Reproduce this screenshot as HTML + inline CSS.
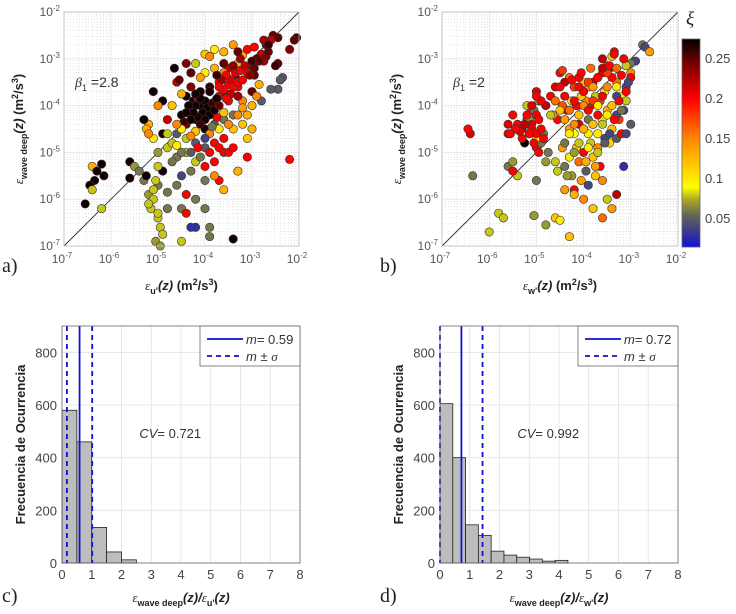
<!DOCTYPE html>
<html><head><meta charset="utf-8"><style>
body{margin:0;background:#fff;width:736px;height:614px;overflow:hidden}
svg{display:block;font-family:"Liberation Sans",sans-serif}
</style></head><body>
<svg id="fig" width="736" height="614" viewBox="0 0 736 614"></svg>
<script>
// ---------- data ----------
const aLogX=[-2.55,-2.45,-2.6,-2.7,-2.05,-2.1,-2.2,-2.45,-2.5,-2.8,-2.9,-3.0,-3.1,-2.35,-2.4,-2.45,-2.6,-2.8,-3.2,-3.3,-3.1,-3.35,-3.5,-3.6,-3.8,-4.0,-3.7,-3.9,-4.1,-4.3,-4.25,-4.4,-4.6,-4.3,-4.1,-3.9,-3.7,-3.5,-3.3,-3.2,-3.1,-3.0,-3.4,-3.6,-3.8,-4.0,-4.2,-4.4,-4.5,-4.6,-4.4,-4.2,-4.0,-3.8,-3.6,-3.4,-3.2,-3.1,-3.0,-3.1,-3.6,-3.8,-4.0,-4.2,-4.4,-4.6,-4.8,-4.9,-5.0,-5.1,-5.2,-5.25,-5.3,-4.8,-4.7,-4.9,-5.1,-4.65,-4.3,-4.5,-5.6,-5.6,-5.5,-5.4,-5.3,-5.2,-5.25,-4.9,-5.0,-4.8,-4.8,-4.6,-4.5,-4.4,-4.2,-4.0,-3.9,-4.2,-4.3,-4.4,-4.5,-3.9,-3.4,-3.7,-3.6,-3.3,-2.2,-5.0,-5.05,-5.1,-5.1,-5.15,-5.0,-4.95,-4.9,-5.05,-4.95,-5.2,-5.0,-6.4,-6.35,-6.3,-6.2,-6.15,-6.45,-6.4,-6.55,-6.2,-4.0,-3.8,-3.4,-4.2,-5.0,-5.2,-4.7,-4.55,-4.1,-3.95,-4.05,-3.85,-4.15,-3.75,-3.55,-3.45,-3.25,-2.95,-2.75];
const aLogY=[-2.5,-2.55,-2.6,-2.7,-2.55,-2.6,-2.8,-3.1,-3.15,-2.9,-3.0,-3.1,-3.2,-3.4,-3.45,-3.65,-3.65,-3.9,-2.92,-3.1,-3.3,-3.4,-3.2,-3.3,-3.2,-3.3,-3.5,-3.6,-3.7,-3.6,-3.9,-3.8,-3.5,-4.1,-4.0,-4.1,-3.8,-3.9,-3.6,-3.9,-4.2,-3.7,-4.2,-4.3,-4.4,-4.5,-4.3,-4.4,-4.2,-4.6,-4.7,-4.8,-4.9,-4.8,-4.7,-4.5,-4.4,-4.7,-4.5,-5.1,-5.0,-5.2,-5.3,-5.2,-5.0,-5.1,-4.9,-4.6,-5.0,-4.7,-4.4,-4.5,-4.3,-4.3,-4.0,-3.9,-3.7,-3.2,-3.3,-3.75,-5.2,-5.55,-5.3,-5.4,-5.6,-5.9,-5.5,-5.4,-5.7,-5.85,-6.2,-5.7,-6.2,-5.9,-6.0,-6.2,-6.6,-6.6,-6.6,-6.3,-6.9,-6.8,-6.85,-5.6,-5.8,-5.4,-5.15,-5.3,-5.6,-5.8,-6.0,-6.2,-6.4,-6.6,-6.75,-6.9,-7.0,-6.1,-6.3,-5.3,-5.6,-5.4,-5.25,-5.5,-5.7,-5.8,-6.1,-6.2,-2.9,-2.8,-2.7,-3.1,-4.0,-4.6,-4.8,-3.45,-3.4,-3.95,-4.2,-4.05,-3.85,-4.25,-3.75,-3.45,-3.25,-3.35,-3.05];
const aXi=[.25,.25,.22,.24,.26,.25,.24,.25,.26,.22,.25,.2,.24,.05,.05,.05,.05,.05,.13,.12,.2,.25,.22,.15,.13,.1,.2,.26,.27,.24,.27,.27,.22,.26,.27,.26,.21,.2,.2,.15,.13,.25,.06,.06,.05,.27,.27,.25,.27,.05,.08,.05,.05,.2,.2,.12,.12,.12,.13,.2,.2,.2,.2,.08,.08,.06,.08,.27,.07,.1,.13,.13,.27,.22,.12,.27,.27,.27,.13,.13,.27,.27,.07,.06,.06,.07,.27,.27,.06,.06,.06,.06,.06,.2,.06,.06,.06,.03,.03,.2,.08,.06,.27,.2,.13,.13,.2,.08,.08,.08,.08,.08,.08,.08,.08,.07,.07,.08,.08,.13,.27,.27,.27,.27,.27,.08,.27,.08,.12,.1,.14,.08,.15,.15,.08,.25,.14,.27,.26,.27,.22,.2,.24,.21,.2,.25,.23];
const aCoreX=[-4.0,-3.95,-4.05,-3.9,-4.1,-4.15,-3.85,-4.2,-4.25,-3.8,-4.0,-4.1,-4.3,-4.35,-3.75,-3.7,-4.4,-4.45,-4.2,-3.9,-3.5,-3.45,-3.55,-3.4,-3.6,-3.3,-3.35,-3.25,-3.15,-3.2,-3.65,-3.7,-3.45,-3.55,-3.3,-3.05,-2.95,-3.0,-2.85,-2.7,-2.65,-3.25,-3.4,-3.6,-3.75,-4.2,-4.3,-4.5,-4.6,-3.9,-3.7,-3.5,-3.3,-3.2,-3.0,-2.9,-2.85,-4.5,-4.3,-4.1,-3.9,-3.7,-3.5,-4.6,-4.8,-4.7,-4.3,-4.5,-4.0,-3.8,-4.15,-3.6,-3.85,-4.0,-3.4,-3.9,-3.6,-4.3,-4.4,-3.3,-3.1,-2.95,-2.75,-2.65];
const aCoreY=[-3.9,-4.05,-4.15,-4.2,-3.85,-4.25,-3.95,-4.0,-4.15,-4.1,-4.3,-4.4,-4.3,-4.0,-3.85,-4.0,-4.15,-4.35,-3.75,-3.7,-3.55,-3.45,-3.35,-3.6,-3.65,-3.5,-3.3,-3.25,-3.15,-3.45,-3.45,-3.6,-3.75,-3.85,-3.8,-3.35,-3.2,-3.05,-3.05,-2.95,-2.85,-3.0,-3.15,-3.1,-3.35,-4.55,-4.65,-4.5,-4.4,-4.6,-4.5,-4.4,-4.2,-4.05,-4.0,-3.8,-3.55,-5.0,-5.0,-5.1,-5.0,-4.9,-5.0,-4.85,-4.6,-5.2,-5.4,-5.5,-5.6,-5.5,-4.9,-4.15,-4.45,-4.7,-4.9,-2.95,-2.85,-3.3,-3.1,-2.85,-2.8,-2.75,-2.6,-2.7];
const aCoreXi=[.27,.27,.27,.27,.27,.27,.26,.27,.27,.27,.27,.26,.27,.27,.27,.25,.27,.26,.27,.27,.2,.21,.2,.2,.2,.2,.21,.2,.22,.2,.23,.2,.22,.2,.23,.24,.25,.26,.25,.24,.25,.23,.24,.25,.26,.12,.15,.1,.15,.15,.1,.15,.15,.14,.13,.15,.13,.06,.05,.06,.2,.2,.2,.1,.08,.06,.06,.04,.06,.15,.2,.12,.06,.04,.2,.15,.13,.25,.24,.25,.2,.2,.23,.26];
const bLogX=[-2.75,-2.7,-2.6,-2.9,-3.0,-3.1,-3.35,-3.4,-3.5,-3.0,-3.0,-3.1,-3.2,-3.3,-3.1,-3.15,-3.25,-3.45,-3.6,-3.7,-3.8,-3.9,-4.0,-4.1,-4.2,-4.3,-4.4,-3.55,-3.65,-3.75,-3.85,-3.95,-4.05,-4.15,-4.25,-4.35,-4.45,-4.55,-4.65,-3.5,-3.6,-3.7,-3.8,-3.9,-4.0,-4.1,-4.2,-4.3,-3.4,-3.3,-3.2,-3.45,-3.55,-3.7,-3.85,-4.0,-4.15,-4.3,-4.45,-4.6,-4.75,-3.65,-3.8,-3.95,-4.1,-4.25,-4.4,-4.55,-3.6,-3.75,-3.9,-4.05,-4.2,-4.35,-3.3,-3.15,-3.0,-3.1,-4.5,-4.6,-4.7,-4.8,-4.9,-5.0,-5.1,-5.2,-5.3,-5.4,-5.5,-5.6,-5.2,-5.0,-4.9,-5.0,-5.1,-5.15,-5.05,-4.95,-4.85,-4.8,-5.6,-5.4,-5.5,-6.4,-6.45,-6.35,-5.5,-5.0,-4.4,-4.2,-4.0,-3.8,-3.6,-3.4,-5.8,-5.7,-6.0,-5.05,-4.8,-4.6,-4.5,-4.3,-3.5,-3.3,-5.35,-5.25];
const bLogY=[-2.7,-2.75,-2.85,-3.05,-3.1,-3.15,-2.85,-2.95,-3.15,-3.3,-3.4,-3.6,-3.8,-3.5,-3.9,-4.1,-4.3,-3.2,-3.3,-3.4,-3.5,-3.6,-3.5,-3.4,-3.6,-3.4,-3.5,-3.7,-3.9,-3.8,-4.0,-3.9,-3.8,-4.0,-3.9,-4.1,-4.0,-4.3,-4.2,-4.1,-4.3,-4.2,-4.4,-4.3,-4.5,-4.4,-4.6,-4.5,-4.5,-4.7,-4.6,-4.8,-4.7,-4.9,-4.8,-5.0,-4.9,-5.1,-4.9,-5.2,-5.0,-5.3,-5.1,-5.4,-5.2,-5.5,-5.3,-5.4,-5.6,-5.5,-5.7,-5.6,-5.8,-5.5,-4.2,-5.3,-4.4,-4.6,-3.3,-3.6,-3.8,-4.0,-3.9,-3.7,-4.1,-4.3,-4.5,-4.4,-4.2,-4.6,-4.0,-4.9,-4.8,-4.7,-4.5,-4.3,-4.1,-3.9,-4.6,-5.2,-5.3,-5.5,-5.4,-4.6,-4.5,-5.5,-5.2,-5.6,-5.8,-5.9,-6.0,-6.2,-6.4,-6.2,-6.3,-6.4,-6.7,-6.35,-6.55,-6.4,-6.45,-6.8,-6.0,-5.9,-4.5,-4.8];
const bXi=[.06,.04,.14,.04,.06,.08,.2,.12,.18,.15,.2,.04,.1,.16,.08,.04,.18,.22,.2,.15,.21,.14,.12,.2,.18,.16,.22,.1,.18,.08,.2,.15,.12,.2,.1,.22,.17,.2,.14,.13,.1,.2,.17,.06,.16,.21,.09,.14,.12,.05,.2,.11,.04,.15,.08,.2,.12,.1,.14,.08,.06,.2,.12,.05,.16,.07,.06,.08,.15,.12,.04,.14,.2,.07,.04,.03,.05,.04,.2,.21,.2,.22,.2,.21,.2,.2,.22,.2,.2,.21,.08,.2,.06,.1,.2,.07,.06,.07,.06,.07,.06,.08,.2,.21,.2,.06,.07,.06,.14,.13,.15,.12,.16,.14,.08,.08,.08,.07,.07,.12,.1,.12,.08,.22,.2];
const bCoreX=[-4.0,-3.9,-4.1,-3.8,-4.2,-3.7,-4.3,-3.6,-4.0,-3.9,-3.8,-4.1,-3.7,-3.5,-3.4,-3.5,-3.6,-3.3,-3.3,-3.4,-3.5,-3.6,-3.7,-3.8,-3.9,-4.0,-4.2,-4.3,-4.4,-4.5,-4.1,-3.9,-3.7,-3.55,-3.45,-3.35,-3.2,-3.25,-3.1,-3.05,-4.4,-4.5,-4.6,-4.7,-4.4,-4.2,-3.95,-3.75,-4.05,-3.85,-3.6,-3.45,-3.3,-3.2,-3.15,-3.35,-4.25,-4.45,-5.0,-5.1,-5.0,-4.9,-5.05,-5.15,-4.95,-5.2,-5.1,-4.9,-5.0,-5.25,-5.3,-4.85,-4.95,-5.35,-5.45,-5.55,-5.6];
const bCoreY=[-4.0,-4.1,-4.2,-3.9,-3.9,-4.0,-4.1,-3.8,-3.7,-3.5,-3.6,-3.6,-3.4,-3.6,-3.4,-3.3,-3.2,-3.6,-3.8,-4.0,-4.2,-4.4,-4.6,-4.4,-4.6,-4.5,-4.4,-4.6,-4.3,-4.1,-4.8,-4.9,-5.0,-4.8,-4.6,-4.3,-4.1,-3.9,-3.7,-3.5,-3.8,-3.6,-3.9,-4.2,-4.8,-5.0,-5.2,-5.3,-3.3,-3.2,-3.0,-3.15,-3.2,-3.35,-3.0,-2.9,-3.45,-3.25,-4.2,-4.4,-4.6,-4.5,-4.8,-4.6,-4.3,-4.2,-4.0,-3.9,-3.8,-4.4,-4.7,-4.7,-5.0,-4.55,-4.5,-4.6,-4.4];
const bCoreXi=[.15,.2,.12,.18,.2,.1,.16,.2,.2,.18,.14,.2,.2,.15,.2,.18,.22,.1,.04,.12,.1,.08,.1,.12,.1,.13,.15,.1,.14,.12,.08,.1,.08,.05,.04,.2,.06,.2,.2,.04,.2,.2,.16,.08,.06,.07,.13,.14,.2,.16,.22,.2,.16,.2,.2,.2,.2,.18,.2,.21,.2,.2,.2,.2,.2,.2,.21,.2,.2,.22,.2,.2,.2,.21,.2,.2,.21];
const cCounts=[580,460,135,42,12];
const cBinW=0.5;
const cMean=0.59, cLo=0.165, cHi=1.015;
const dCounts=[605,400,145,105,45,30,22,15,7,10];
const dBinW=0.43;
const dMean=0.72, dLo=0.0, dHi=1.43;
const cbTicks=[0.05,0.1,0.15,0.2,0.25];
const histYTicks=[0,200,400,600,800];
const histXTicks=[0,1,2,3,4,5,6,7,8];
const logTicks=[-7,-6,-5,-4,-3,-2];

// ---------- helpers ----------
const NS="http://www.w3.org/2000/svg";
const svg=document.getElementById('fig');
function mk(tag,attrs,parent){const e=document.createElementNS(NS,tag);for(const k in attrs)e.setAttribute(k,attrs[k]);(parent||svg).appendChild(e);return e;}
const stops=[[0.01,[0,0,255]],[0.035,[60,60,140]],[0.055,[100,100,90]],[0.075,[170,170,40]],[0.09,[255,255,0]],[0.15,[255,136,0]],[0.2,[255,0,0]],[0.245,[120,0,0]],[0.275,[0,0,0]]];
function cmap(v){if(v<=stops[0][0])return 'rgb('+stops[0][1]+')';for(let i=1;i<stops.length;i++){if(v<=stops[i][0]){const t=(v-stops[i-1][0])/(stops[i][0]-stops[i-1][0]);const a=stops[i-1][1],b=stops[i][1];return 'rgb('+a.map((x,j)=>Math.round(x+(b[j]-x)*t)).join(',')+')';}}return 'rgb(0,0,0)';}

function scatter(x0,x1,y0,y1,sets,name,xlab,beta,letter){
  const g=mk('g',{});
  
  
  const sx=v=>x0+(v+7)/5*(x1-x0), sy=v=>y1-(v+7)/5*(y1-y0);
  mk('rect',{x:x0,y:y0,width:x1-x0,height:y1-y0,fill:'#fff'},g);
  for(let d=-7;d<-2;d++)for(let m=2;m<10;m++){const v=d+Math.log10(m);
    mk('line',{x1:sx(v),x2:sx(v),y1:y0,y2:y1,stroke:'#ccc','stroke-width':0.5,'stroke-dasharray':'1,2'},g);
    mk('line',{x1:x0,x2:x1,y1:sy(v),y2:sy(v),stroke:'#ccc','stroke-width':0.5,'stroke-dasharray':'1,2'},g);}
  logTicks.forEach(t=>{mk('line',{x1:sx(t),x2:sx(t),y1:y0,y2:y1,stroke:'#ddd','stroke-width':0.6},g);mk('line',{x1:x0,x2:x1,y1:sy(t),y2:sy(t),stroke:'#ddd','stroke-width':0.6},g);});
  mk('line',{x1:sx(-7),y1:sy(-7),x2:sx(-2),y2:sy(-2),stroke:'#333','stroke-width':0.9},g);
  sets.forEach(([LX,LY,C])=>{
  for(let i=0;i<LX.length;i++){const p=mk('circle',{cx:sx(LX[i]).toFixed(1),cy:sy(LY[i]).toFixed(1),r:4.2,fill:cmap(C[i]),stroke:'#333','stroke-width':0.6},g);
    
    }});
  mk('rect',{x:x0,y:y0,width:x1-x0,height:y1-y0,fill:'none',stroke:'#bbb','stroke-width':0.8},g);
  logTicks.forEach(t=>{
    const tx=mk('text',{x:sx(t)-2,y:y1+17,'font-size':12,fill:'#555','text-anchor':'middle'},g);tx.innerHTML='10<tspan dy="-5" font-size="8">'+t+'</tspan>';
    const ty=mk('text',{x:x0-4,y:sy(t)+4,'font-size':12,fill:'#555','text-anchor':'end'},g);ty.innerHTML='10<tspan dy="-5" font-size="8">'+t+'</tspan>';});
  const bt=mk('text',{x:x0+11,y:y0+75,'font-size':14,fill:'#333'},g);bt.innerHTML='<tspan font-style="italic" font-family="Liberation Serif">β</tspan><tspan dy="4" font-size="9">1</tspan><tspan dy="-4"> ='+beta+'</tspan>';
  const xl=mk('text',{x:(x0+x1)/2,y:y1+44,'font-size':13,'font-weight':'bold',fill:'#222','text-anchor':'middle'},g);
  xl.innerHTML='<tspan font-family="Liberation Serif" font-style="italic" font-weight="normal">ε</tspan><tspan dy="4" font-size="9">'+xlab+'</tspan><tspan dy="-4" font-style="italic">(z)</tspan>  (m<tspan dy="-5" font-size="9">2</tspan><tspan dy="5">/s</tspan><tspan dy="-5" font-size="9">3</tspan><tspan dy="5">)</tspan>';
  
  const yl=mk('text',{x:0,y:0,'font-size':13,'font-weight':'bold',fill:'#222','text-anchor':'middle',transform:'translate('+(x0-41)+','+((y0+y1)/2)+') rotate(-90)'},g);
  yl.innerHTML='<tspan font-family="Liberation Serif" font-style="italic" font-weight="normal">ε</tspan><tspan dy="4" font-size="9">wave deep</tspan><tspan dy="-4" font-style="italic">(z)</tspan>  (m<tspan dy="-5" font-size="9">2</tspan><tspan dy="5">/s</tspan><tspan dy="-5" font-size="9">3</tspan><tspan dy="5">)</tspan>';
  
  const pl=mk('text',{x:x0-62,y:y1+26,'font-size':20,fill:'#222','font-family':'Liberation Serif'},g);pl.textContent=letter;
  
}

function hist(x0,x1,y0,y1,counts,bw,mean,lo,hi,mtxt,cv,xlab,letter,name){
  const g=mk('g',{});
  
  
  const sx=v=>x0+v/8*(x1-x0), sy=v=>y1-v/900*(y1-y0);
  mk('rect',{x:x0,y:y0,width:x1-x0,height:y1-y0,fill:'#fff'},g);
  histXTicks.forEach(t=>{mk('line',{x1:sx(t),x2:sx(t),y1:y0,y2:y1,stroke:'#e2e2e2','stroke-width':0.8},g);
    const tt=mk('text',{x:sx(t),y:y1+16,'font-size':13,fill:'#444','text-anchor':'middle'},g);tt.textContent=t;});
  histYTicks.forEach(t=>{mk('line',{x1:x0,x2:x1,y1:sy(t),y2:sy(t),stroke:'#e2e2e2','stroke-width':0.8},g);
    const tt=mk('text',{x:x0-5,y:sy(t)+5,'font-size':13,fill:'#444','text-anchor':'end'},g);tt.textContent=t;});
  counts.forEach((c,i)=>{const r=mk('rect',{x:sx(i*bw),y:sy(c),width:sx(bw)-sx(0),height:sy(0)-sy(c),fill:'#bdbdbd',stroke:'#222','stroke-width':0.8},g);
    });
  [[lo,'5,4'],[hi,'5,4'],[mean,'']].forEach(([v,da])=>{const l=mk('line',{x1:sx(v),x2:sx(v),y1:y0,y2:y1,stroke:'#1010d0','stroke-width':1.8},g);if(da)l.setAttribute('stroke-dasharray',da);
    });
  mk('rect',{x:x0,y:y0,width:x1-x0,height:y1-y0,fill:'none',stroke:'#666','stroke-width':0.8},g);
  const lg=mk('g',{},g);
  const lx=x1-100;
  mk('rect',{x:lx,y:y0,width:100,height:40,fill:'#fff',stroke:'#666','stroke-width':0.8},lg);
  mk('line',{x1:lx+7,x2:lx+43,y1:y0+13,y2:y0+13,stroke:'#1010d0','stroke-width':1.8},lg);
  mk('line',{x1:lx+7,x2:lx+43,y1:y0+30,y2:y0+30,stroke:'#1010d0','stroke-width':1.8,'stroke-dasharray':'5,4'},lg);
  const t1=mk('text',{x:lx+46,y:y0+18,'font-size':13,fill:'#333'},lg);t1.innerHTML='<tspan font-style="italic">m</tspan>= '+mtxt;
  const t2=mk('text',{x:lx+46,y:y0+35,'font-size':13,fill:'#333'},lg);t2.innerHTML='<tspan font-style="italic">m</tspan> ± <tspan font-style="italic" font-family="Liberation Serif">σ</tspan>';
  const cvt=mk('text',{x:sx(2.6),y:y0+112,'font-size':13,fill:'#333'},g);cvt.innerHTML='<tspan font-style="italic">CV</tspan>= '+cv;
  
  const yl=mk('text',{x:0,y:0,'font-size':13,'font-weight':'bold',fill:'#222','text-anchor':'middle',transform:'translate('+(x0-37)+','+((y0+y1)/2)+') rotate(-90)'},g);yl.textContent='Frecuencia de Ocurrencia';
  
  const xl=mk('text',{x:(x0+x1)/2,y:y1+39,'font-size':13,'font-weight':'bold',fill:'#222','text-anchor':'middle'},g);
  xl.innerHTML='<tspan font-family="Liberation Serif" font-style="italic" font-weight="normal">ε</tspan><tspan dy="4" font-size="9">wave deep</tspan><tspan dy="-4" font-style="italic">(z)/</tspan><tspan font-family="Liberation Serif" font-style="italic" font-weight="normal">ε</tspan><tspan dy="4" font-size="9">'+xlab+'</tspan><tspan dy="-4" font-style="italic">(z)</tspan>';
  
  const pl=mk('text',{x:x0-60,y:y1+39,'font-size':20,fill:'#222','font-family':'Liberation Serif'},g);pl.textContent=letter;
  
}

scatter(64,299,12,246,[[aLogX,aLogY,aXi],[aCoreX,aCoreY,aCoreXi]],'scatter-panel-a',"u'",'2.8','a)');
scatter(442,678,12,246,[[bLogX,bLogY,bXi],[bCoreX,bCoreY,bCoreXi]],'scatter-panel-b',"w'",'2','b)');
hist(62,300,326,563,cCounts,cBinW,cMean,cLo,cHi,'0.59','0.721',"u'",'c)','histogram-panel-c');
hist(440,678,326,563,dCounts,dBinW,dMean,dLo,dHi,'0.72','0.992',"w'",'d)','histogram-panel-d');

// colorbar
const cb=mk('g',{});


const cbTop=39,cbBot=247,cbMax=0.274,cbMin=0.014;
const cy=v=>cbBot-(v-cbMin)/(cbMax-cbMin)*(cbBot-cbTop);
for(let y=cbTop;y<cbBot;y+=2){const v=cbMin+(cbBot-y)/(cbBot-cbTop)*(cbMax-cbMin);mk('rect',{x:682,y:y,width:18,height:2.2,fill:cmap(v)},cb);}
mk('rect',{x:682,y:cbTop,width:18,height:cbBot-cbTop,fill:'none',stroke:'#666','stroke-width':0.8},cb);
cbTicks.forEach(t=>{const tt=mk('text',{x:705,y:cy(t)+5,'font-size':13,fill:'#444'},cb);tt.textContent=t;});
const xi=mk('text',{x:686,y:25,'font-size':19,fill:'#222','font-family':'Liberation Serif','font-style':'italic'},cb);xi.textContent='ξ';
</script>
</body></html>
